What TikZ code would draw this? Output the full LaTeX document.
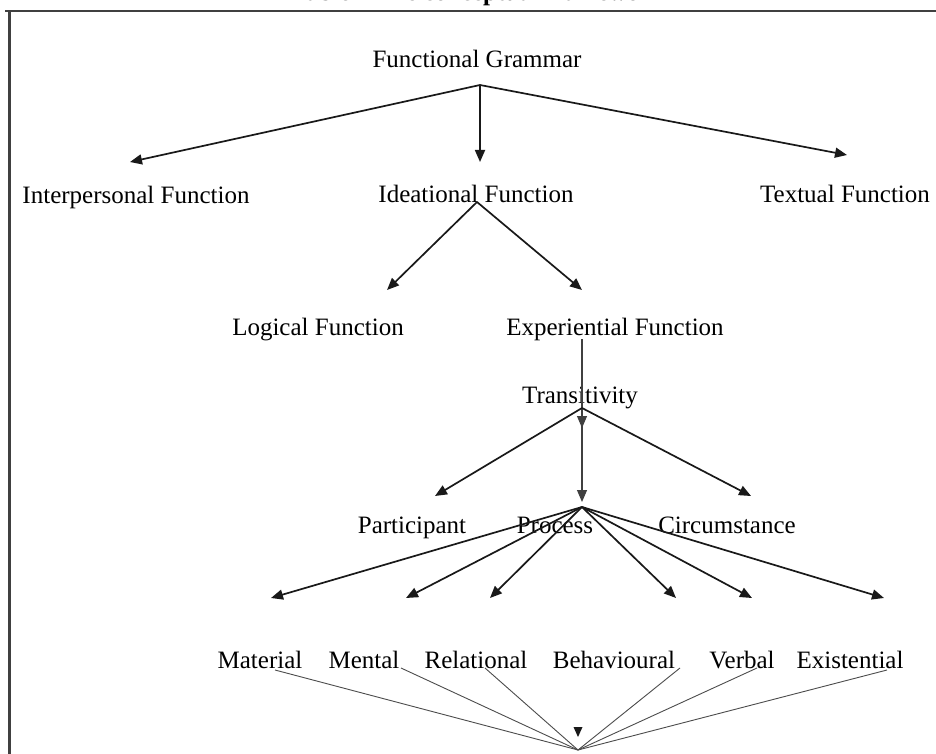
\documentclass[tikz,border=0pt]{standalone}
\usepackage{fontspec}
\setmainfont{Liberation Serif}
\usetikzlibrary{arrows.meta}
\begin{document}
\begin{tikzpicture}[x=1pt,y=-1pt,
  lbl/.style={anchor=base,inner sep=0pt,font=\fontsize{25}{30}\selectfont},
  arr/.style={line width=1.7pt,draw=black!90,-{Triangle[length=12pt,width=10pt]}},
  varr/.style={line width=1.1pt,draw=black!75,-{Triangle[length=12pt,width=10pt]}},
  thinline/.style={line width=0.9pt,draw=black!70},
  frame/.style={line width=2.5pt,draw=black!75}]
\useasboundingbox (0,0) rectangle (936,754);
\fill[white] (0,0) rectangle (936,754);
% partially visible caption (cut off at the top edge, as in the reference)
\node[lbl,font=\fontsize{25}{30}\selectfont\bfseries] (title) at (478,1) {Table 1 The conceptual framework};
% frame
\coordinate (fTL) at (9.5,11);
\coordinate (fTR) at (940,11);
\coordinate (fBL) at (9.5,760);
\draw[frame] (5,11) -- (fTR);
\draw[frame] (fTL) -- (fBL);
% text nodes
\node[lbl] (fg) at (477,68) {Functional Grammar};
\node[lbl] (inter) at (136,203) {Interpersonal Function};
\node[lbl] (idea) at (476,202) {Ideational Function};
\node[lbl] (textual) at (845,202) {Textual Function};
\node[lbl] (logical) at (318,335) {Logical Function};
\node[lbl] (exper) at (615,335) {Experiential Function};
\node[lbl] (trans) at (580,403) {Transitivity};
\node[lbl] (partic) at (412,533) {Participant};
\node[lbl] (proc) at (555,533) {Process};
\node[lbl] (circ) at (727,533) {Circumstance};
\node[lbl] (mat) at (260,668) {Material};
\node[lbl] (ment) at (364,668) {Mental};
\node[lbl] (rel) at (476,668) {Relational};
\node[lbl] (beh) at (614,668) {Behavioural};
\node[lbl] (verb) at (742,668) {Verbal};
\node[lbl] (exist) at (850,668) {Existential};
% junctions and tips
\coordinate (fgJ) at (480,85);
\coordinate (ipT) at (130,162);
\coordinate (idT) at (480,162);
\coordinate (txT) at (847,155);
\coordinate (idJ) at (477,202);
\coordinate (lgT) at (387,290);
\coordinate (exT) at (582,290);
\coordinate (exB) at (582,339);
\coordinate (trA) at (582,428);
\coordinate (trJ) at (582,408);
\coordinate (paT) at (435,496);
\coordinate (prT) at (582,502);
\coordinate (ciT) at (751,496);
\coordinate (prJ) at (582,507);
\coordinate (maT) at (271,598);
\coordinate (meT) at (406,598);
\coordinate (reT) at (490,598);
\coordinate (beT) at (676,598);
\coordinate (veT) at (752,598);
\coordinate (xiT) at (884,598);
\coordinate (maS) at (275,670);
\coordinate (meS) at (401,668);
\coordinate (reS) at (485,668);
\coordinate (beS) at (680,668);
\coordinate (veS) at (757,668);
\coordinate (xiS) at (887,670);
\coordinate (cv) at (578,750);
% connectors
\draw[arr] (fgJ) -- (ipT);
\draw[arr] (fgJ) -- (idT);
\draw[arr] (fgJ) -- (txT);
\draw[arr] (idJ) -- (lgT);
\draw[arr] (idJ) -- (exT);
\draw[varr] (exB) -- (trA);
\draw[varr] (trJ) -- (prT);
\draw[arr] (trJ) -- (paT);
\draw[arr] (trJ) -- (ciT);
\foreach \t in {maT,meT,reT,beT,veT,xiT}{\draw[arr] (prJ) -- (\t);}
\foreach \s in {maS,meS,reS,beS,veS,xiS}{\draw[thinline] (\s) -- (cv);}
\fill[black!90] (573.5,727) -- (582.5,727) -- (578,737) -- cycle;
\end{tikzpicture}
\end{document}
